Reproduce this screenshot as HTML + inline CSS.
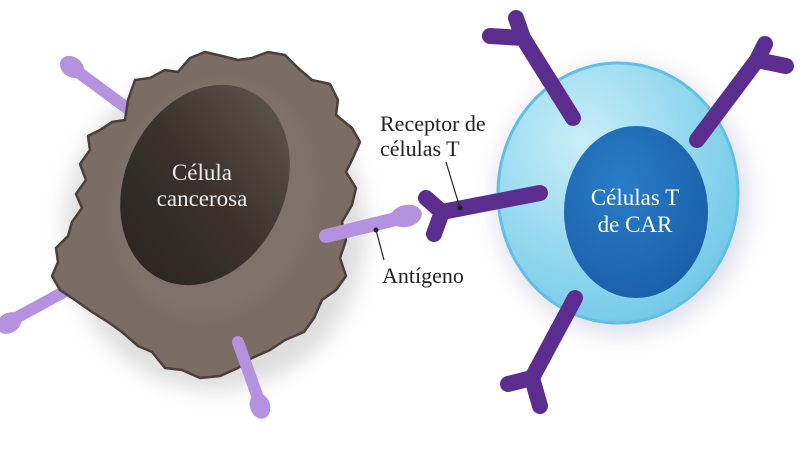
<!DOCTYPE html>
<html><head><meta charset="utf-8"><style>
html,body{margin:0;padding:0;background:#fff;}
svg{display:block;}
text{font-family:"Liberation Serif",serif;}
</style></head><body>
<svg width="800" height="453" viewBox="0 0 800 453" xmlns="http://www.w3.org/2000/svg">
<defs>
<filter id="sh" x="-30%" y="-30%" width="160%" height="160%"><feGaussianBlur stdDeviation="10"/></filter>
<filter id="bl" x="-30%" y="-30%" width="160%" height="160%"><feGaussianBlur stdDeviation="8"/></filter>
<linearGradient id="nuc" x1="0.7" y1="0" x2="0.3" y2="1">
<stop offset="0" stop-color="#5d524a"/><stop offset="0.5" stop-color="#3a322b"/><stop offset="1" stop-color="#2c2520"/>
</linearGradient>
<radialGradient id="tc" cx="0.35" cy="0.3" r="0.8">
<stop offset="0" stop-color="#c9eef8"/><stop offset="0.6" stop-color="#8fd6ee"/><stop offset="1" stop-color="#6ec6e6"/>
</radialGradient>
<radialGradient id="tn" cx="0.4" cy="0.35" r="0.7">
<stop offset="0" stop-color="#2a7cc8"/><stop offset="1" stop-color="#1a5fa8"/>
</radialGradient>
</defs>

<ellipse cx="215" cy="230" rx="150" ry="160" fill="#bbb" opacity="0.5" filter="url(#sh)"/>
<ellipse cx="622" cy="200" rx="128" ry="136" fill="#aac" opacity="0.35" filter="url(#sh)"/>

<g stroke-linecap="round" fill="#b592e0" stroke="#b592e0">
<line x1="143" y1="120" x2="78" y2="72" stroke-width="12"/>
<ellipse cx="72" cy="67" rx="13" ry="10" transform="rotate(35 72 67)" stroke="none"/>
<line x1="82" y1="282" x2="16" y2="318" stroke-width="12"/>
<ellipse cx="9" cy="323" rx="13" ry="10" transform="rotate(-30 9 323)" stroke="none"/>
</g>

<path d="M135,80 L150,78 L165,70 L178,72 L190,58 L205,52 L222,56 L238,60 L252,58 L268,52 L285,55 L298,68 L312,80 L330,84 L338,100 L336,115 L352,128 L360,142 L352,160 L346,172 L356,188 L352,205 L342,222 L346,240 L340,258 L346,276 L336,290 L322,300 L314,318 L304,332 L285,340 L270,350 L252,358 L238,368 L220,376 L200,378 L182,370 L165,368 L152,352 L138,346 L122,332 L108,322 L92,312 L75,300 L60,290 L52,276 L58,262 L56,248 L68,236 L72,222 L82,208 L76,194 L86,180 L80,164 L90,150 L88,136 L100,130 L112,122 L125,120 L128,100 Z" fill="#7b6c64" stroke="#4a3f3a" stroke-width="2.5" stroke-linejoin="round"/>
<ellipse cx="215" cy="200" rx="100" ry="120" transform="rotate(20 215 200)" fill="#8a7c74" opacity="0.35" filter="url(#bl)"/>
<ellipse cx="205" cy="185" rx="80" ry="104" transform="rotate(25 205 185)" fill="url(#nuc)"/>

<g stroke-linecap="round" fill="#b592e0" stroke="#b592e0">
<line x1="238" y1="342" x2="258" y2="398" stroke-width="12"/>
<ellipse cx="260" cy="406" rx="10" ry="13" transform="rotate(-18 260 406)" stroke="none"/>
<line x1="326" y1="236" x2="400" y2="218" stroke-width="14"/>
<ellipse cx="406" cy="216" rx="16" ry="11" transform="rotate(-12 406 216)" stroke="none"/>
</g>

<ellipse cx="618" cy="193" rx="120" ry="130" fill="url(#tc)" stroke="#5fc0e4" stroke-width="3"/>
<ellipse cx="636" cy="212" rx="72" ry="86" fill="url(#tn)"/>

<g stroke="#5b2d8e" stroke-width="16" stroke-linecap="round" stroke-linejoin="round" fill="none">
<path d="M573,118 L523,38 M523,38 L516,18 M523,38 L490,36"/>
<path d="M697,140 L757,60 M757,60 L765,44 M757,60 L786,66"/>
<path d="M540,193 L442,212 M442,212 L426,198 M442,212 L434,234"/>
<path d="M575,298 L532,378 M532,378 L508,384 M532,378 L540,406"/>
</g>

<text x="202" y="180" font-size="23" fill="#eee" text-anchor="middle">Célula</text>
<text x="202" y="206" font-size="23" fill="#eee" text-anchor="middle">cancerosa</text>
<text x="635" y="205" font-size="23" fill="#fff" text-anchor="middle">Células T</text>
<text x="635" y="232" font-size="23" fill="#fff" text-anchor="middle">de CAR</text>
<text x="380" y="131" font-size="22" fill="#222">Receptor de</text>
<text x="380" y="156" font-size="22" fill="#222">células T</text>
<text x="382" y="283" font-size="22" fill="#222">Antígeno</text>

<line x1="446" y1="162" x2="460" y2="208" stroke="#222" stroke-width="1.2"/>
<circle cx="460" cy="208" r="2.5" fill="#222"/>
<line x1="376" y1="230" x2="384" y2="260" stroke="#222" stroke-width="1.2"/>
<circle cx="376" cy="230" r="2.5" fill="#222"/>
</svg>
</body></html>
